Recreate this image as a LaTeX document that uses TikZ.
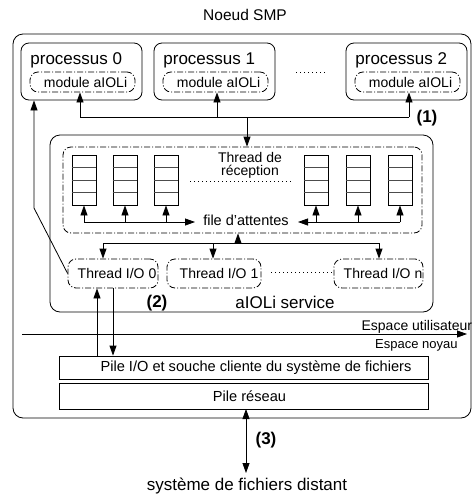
\documentclass[tikz,border=0pt]{standalone}
\usepackage{fontspec}
\setmainfont{Liberation Sans}
\usetikzlibrary{arrows.meta}
\begin{document}
\begin{tikzpicture}[x=1pt,y=-1pt,line width=0.8pt,
  arr/.style={-{Triangle[length=10pt,width=7pt]}},
  darr/.style={{Triangle[length=10pt,width=7pt]}-{Triangle[length=10pt,width=7pt]}},
  dashdot/.style={dash pattern=on 6pt off 2pt on 1pt off 2pt},
  dotline/.style={dash pattern=on 1pt off 3pt, line width=0.7pt},
  rbox/.style={draw, rounded corners=8pt, inner sep=0pt},
  sbox/.style={draw, inner sep=0pt},
  fbig/.style={font=\fontsize{17}{20}\selectfont},
  fmid/.style={font=\fontsize{14}{16}\selectfont},
  fpile/.style={font=\fontsize{14.6}{16}\selectfont},
  fsm/.style={font=\fontsize{13}{15}\selectfont},
  flab/.style={font=\fontsize{17}{20}\selectfont\bfseries},
  procbox/.style={rbox, minimum width=121pt, minimum height=57pt},
  modbox/.style={rbox, dashdot, minimum width=105pt, minimum height=20pt, fmid},
  thbox/.style={rbox, dashdot, minimum height=29pt, fmid},
  queue/.style={sbox, minimum width=24pt, minimum height=50pt},
  cell/.style={line width=0.7pt, gray!60!black}]
\useasboundingbox (0,0) rectangle (472,499);

% outer node
\node[font=\fontsize{15.5}{18}\selectfont] (title) at (245,15) {Noeud SMP};
\node[rbox, rounded corners=10pt, minimum width=458pt, minimum height=384pt] (smp) at (242,226) {};

% processes
\node[procbox] (p0) at (81.5,71.5) {};
\node[procbox] (p1) at (214.5,71.5) {};
\node[procbox] (p2) at (406.5,71.5) {};
\node[fbig, anchor=west, inner sep=0pt] (p0t) at (30,60) {processus 0};
\node[fbig, anchor=west, inner sep=0pt] (p1t) at (163,60) {processus 1};
\node[fbig, anchor=west, inner sep=0pt] (p2t) at (355,60) {processus 2};
\node[modbox] (m0) at (82.5,82) {\hspace*{6pt}module aIOLi};
\node[modbox] (m1) at (215.5,82) {\hspace*{6pt}module aIOLi};
\node[modbox] (m2) at (407.5,82) {\hspace*{6pt}module aIOLi};
\coordinate (pd1) at (296,72);
\coordinate (pd2) at (327,72);
\draw[dotline] (pd1) -- (pd2);

% aIOLi service
\node[rbox, rounded corners=10pt, minimum width=383pt, minimum height=177pt] (svc) at (241.5,223.5) {};
\node[fbig, inner sep=0pt] (svct) at (285,302) {aIOLi service};
\node[rbox, dashdot, minimum width=359pt, minimum height=86pt] (recv) at (242.5,190) {};
\node[align=center, inner sep=0pt, font=\fontsize{14}{13}\selectfont] (recvt) at (250,165) {Thread de\\réception};
\coordinate (rd1) at (190,181);
\coordinate (rd2) at (291,181);
\draw[dotline] (rd1) -- (rd2);

% queues
\foreach \i/\x in {1/84,2/125,3/166,4/316,5/358,6/400}{
  \node[queue] (q\i) at (\x,180) {};
  \draw[cell] (q\i.west |- 0,167.5) -- (q\i.east |- 0,167.5);
  \draw[cell] (q\i.west |- 0,180) -- (q\i.east |- 0,180);
  \draw[cell] (q\i.west |- 0,192.5) -- (q\i.east |- 0,192.5);
  \coordinate (qa\i) at (\x,222);
  \draw[arr] (qa\i) -- (q\i.south);
}
\node[font=\fontsize{14.5}{16}\selectfont, inner sep=0pt] (fa) at (246,220) {file d'attentes};
\coordinate (faw) at (195,222);
\coordinate (fae) at (298,222);
\draw[arr] (qa1) -- (faw);
\draw[arr] (qa6) -- (fae);

% top bus
\coordinate (b0) at (80,117);
\coordinate (b1) at (217,117);
\coordinate (b2) at (409,117);
\coordinate (bd) at (247,117);
\draw (b0) -- (b2);
\draw[arr] (b0) -- (b0 |- m0.south);
\draw[arr] (b1) -- (b1 |- m1.south);
\draw[arr] (b2) -- (b2 |- m2.south);
\draw[arr] (bd) -- (bd |- recv.north);
\node[flab, inner sep=0pt] (l1) at (427,118) {(1)};

% thread I/O
\node[thbox, minimum width=90pt] (t0) at (113,273.5) {};
\node[thbox, minimum width=94pt] (t1) at (214,273.5) {};
\node[thbox, minimum width=89pt] (tn) at (378.5,273.5) {};
\node[fmid, inner sep=0pt] (t0t) at (117,273) {Thread I/O 0};
\node[fmid, inner sep=0pt] (t1t) at (219,273) {Thread I/O 1};
\node[fmid, inner sep=0pt] (tnt) at (383,273) {Thread I/O n};
\coordinate (td1) at (271,272);
\coordinate (td2) at (333,272);
\draw[dotline] (td1) -- (td2);

% lower bus
\coordinate (c0) at (103,243);
\coordinate (c1) at (213,243);
\coordinate (c2) at (379,243);
\coordinate (cu) at (238,243);
\draw (c0) -- (c2);
\draw[arr] (c0) -- (c0 |- t0.north);
\draw[arr] (c1) -- (c1 |- t1.north);
\draw[arr] (c2) -- (c2 |- tn.north);
\draw[arr] (cu) -- (cu |- recv.south);

% return path to processus 0
\coordinate (lk) at (34,208);
\draw[arr] (t0.west) -- (lk) -- (lk |- p0.south);
\node[flab, inner sep=0pt] (l2) at (157,303) {(2)};

% user / kernel separation
\coordinate (es0) at (22,334);
\coordinate (es1) at (467,334);
\draw[arr] (es0) -- (es1);
\node[fmid, anchor=base east, inner sep=0pt] (eu) at (472.5,330) {Espace utilisateur};
\node[fsm, anchor=base east, inner sep=0pt] (en) at (458,348) {Espace noyau};

% stacks
\node[sbox, minimum width=369pt, minimum height=23pt, fpile] (pio) at (243.5,367.5) {\hspace*{25pt}Pile I/O et souche cliente du système de fichiers};
\node[sbox, minimum width=369pt, minimum height=26pt, fpile] (pnet) at (243.5,396) {\hspace*{12pt}Pile réseau};
\coordinate (au) at (97,288);
\coordinate (ad) at (113,288);
\draw[arr] (au |- pio.north) -- (au |- t0.south);
\draw[arr] (ad |- t0.south) -- (ad |- pio.north);

% remote
\node[fbig, inner sep=0pt] (fs) at (247,486) {système de fichiers distant};
\coordinate (r0) at (246,409);
\coordinate (r1) at (246,473);
\draw[darr] (r0) -- (r1);
\node[flab, inner sep=0pt] (l3) at (266,440) {(3)};
\end{tikzpicture}
\end{document}
